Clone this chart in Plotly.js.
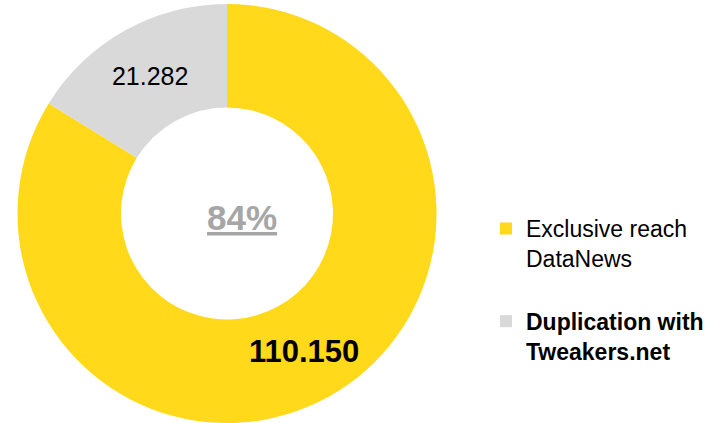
<!DOCTYPE html>
<html>
<head>
<meta charset="utf-8">
<script src="https://cdn.plot.ly/plotly-3.0.1.min.js"></script>
<style>html,body{margin:0;padding:0;background:#fff;}#chart{width:728px;height:423px;}</style>
</head>
<body>
<div id="chart"></div>
<script>
const legendLabels = ["Exclusive reach<br>DataNews<br> ", "<b>Duplication with<br>Tweakers.net</b>"];
const values = [110150, 21282];
const colors = ["#FFD91A", "#D9D9D9"];

const W = 728, H = 423, MT = 4;
const PH = H - MT;
const domainX = [0.024, 0.5996];
const holeFrac = 0.506;

const total = values.reduce((a, b) => a + b, 0);
const share = Math.round(values[0] / total * 100);
const fmt = v => v.toLocaleString("de-DE");

// geometry derived from the pie domain, for the big slice label
const R = PH / 2;
const cx = (domainX[0] + domainX[1]) / 2 * W;
const cy = MT + R;
const midAng = (values[0] / total) * Math.PI; // clockwise from 12 o'clock
const rMid = R * (1 + holeFrac) / 2;
const lx = cx + rMid * Math.sin(midAng);
const ly = cy - rMid * Math.cos(midAng);

const trace = {
  type: "pie",
  labels: legendLabels,
  values: values,
  hole: holeFrac,
  sort: false,
  direction: "clockwise",
  rotation: 0,
  marker: {colors: colors, line: {width: 0}},
  texttemplate: ["", "%{value:,}"],
  textposition: "inside",
  insidetextorientation: "horizontal",
  textfont: {family: "Liberation Sans, Arial, sans-serif", size: 25, color: "#000000"},
  domain: {x: domainX, y: [0, 1]},
  hoverinfo: "none"
};

const layout = {
  width: W,
  height: H,
  margin: {l: 0, r: 0, t: MT, b: 0},
  paper_bgcolor: "#ffffff",
  separators: ",.",
  showlegend: true,
  legend: {
    x: 0.6676, xanchor: "left",
    y: 0.5155, yanchor: "top",
    valign: "top",
    font: {family: "Liberation Sans, Arial, sans-serif", size: 23, color: "#000000"},
    itemwidth: 30
  },
  annotations: [{
    x: 242 / W, y: 0.49, xref: "paper", yref: "paper",
    xanchor: "center", yanchor: "middle",
    text: "<u><b>" + share + "%</b></u>",
    showarrow: false,
    font: {family: "Liberation Sans, Arial, sans-serif", size: 35, color: "#A6A6A6"}
  }, {
    x: lx / W, y: (H - ly) / PH, xref: "paper", yref: "paper",
    xanchor: "center", yanchor: "middle",
    text: "<b>" + fmt(values[0]) + "</b>",
    showarrow: false,
    font: {family: "Liberation Sans, Arial, sans-serif", size: 31, color: "#000000"}
  }]
};

Plotly.newPlot("chart", [trace], layout, {displayModeBar: false, staticPlot: true});
</script>
</body>
</html>
